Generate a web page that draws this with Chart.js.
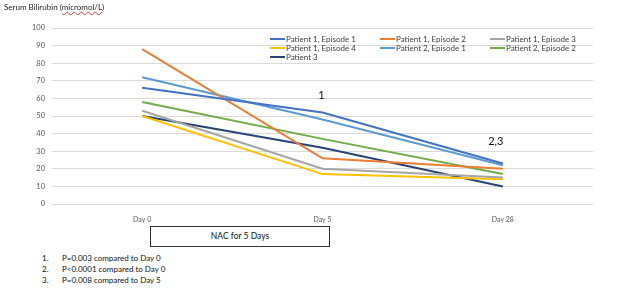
<!DOCTYPE html>
<html>
<head>
<meta charset="utf-8">
<script src="https://cdn.jsdelivr.net/npm/chart.js@4"></script>
<style>
  body { margin: 0; background: #fff; font-family: Lato, "Open Sans", sans-serif; }
  #wrap { position: relative; width: 624px; height: 290px; }
  #chart { position: absolute; left: 0; top: 0; }
  #title { position: absolute; left: 4px; top: 2px; font-size: 8px; color: #222; }
  #title u { text-decoration: underline wavy #e04040; text-underline-offset: 1px; }
  #legend { position: absolute; left: 270px; top: 34px; width: 340px; font-size: 8px; color: #404040; }
  .item { position: absolute; display: flex; align-items: center; white-space: nowrap; }
  .item span.sw { display: inline-block; width: 15px; height: 2px; margin-right: 1px; }
  #nac { position: absolute; left: 150px; top: 226px; width: 178px; height: 19px; border: 1px solid #333;
         font-size: 8.5px; text-align: center; line-height: 19px; color: #111; }
  #notes { position: absolute; left: 42px; top: 253px; font-size: 8px; color: #111; line-height: 11px; }
  #notes div span { display: inline-block; width: 20px; }
</style>
</head>
<body>
<div id="wrap">
  <canvas id="chart" width="624" height="225"></canvas>
  <div id="title">Serum Bilirubin (<u>micromol/L</u>)</div>
  <div id="legend"></div>
  <div id="nac">NAC for 5 Days</div>
  <div id="notes"></div>
</div>
<script>
const days = ["Day 0", "Day 5", "Day 28"];

const p1e1 = [66, 52, 23];
const p1e2 = [88, 26, 20];
const p1e3 = [53, 20, 15];
const p1e4 = [50, 17, 14];
const p2e1 = [72, 48, 22];
const p2e2 = [58, 37, 17];
const p3 = [50, 32, 10];

const seriesNames = [
  "Patient 1, Episode 1", "Patient 1, Episode 2", "Patient 1, Episode 3",
  "Patient 1, Episode 4", "Patient 2, Episode 1", "Patient 2, Episode 2",
  "Patient 3"
];
const seriesColors = ["#4472C4", "#ED7D31", "#A5A5A5", "#FFC000", "#5B9BD5", "#70AD47", "#264478"];

// significance marks: text, category, y value where it sits
const marks = [
  { text: "1", day: "Day 5", y: 61.5 },
  { text: "2,3", day: "Day 28", y: 35.5 }
];

const footnotes = [
  "P=0.003 compared to Day 0",
  "P<0.0001 compared to Day 0",
  "P=0.008 compared to Day 5"
];

const allSeries = [p1e1, p1e2, p1e3, p1e4, p2e1, p2e2, p3];

const marksPlugin = {
  id: "marks",
  afterDatasetsDraw(chart) {
    const ctx = chart.ctx;
    const xs = chart.scales.x, ys = chart.scales.y;
    ctx.save();
    ctx.font = "11px Lato, 'Open Sans', sans-serif";
    ctx.fillStyle = "#111";
    ctx.textAlign = "center";
    ctx.textBaseline = "middle";
    marks.forEach((m, i) => {
      const idx = days.indexOf(m.day);
      const nudge = i === 0 ? -1 : -7;
      ctx.fillText(m.text, xs.getPixelForValue(idx) + nudge, ys.getPixelForValue(m.y));
    });
    ctx.restore();
  }
};

const chart = new Chart(document.getElementById("chart"), {
  type: "line",
  data: {
    labels: days,
    datasets: allSeries.map((vals, i) => ({
      label: seriesNames[i],
      data: vals,
      borderColor: seriesColors[i],
      backgroundColor: seriesColors[i],
      borderWidth: 2,
      pointRadius: 0,
      tension: 0,
      fill: false
    }))
  },
  options: {
    responsive: false,
    animation: false,
    layout: { padding: { top: 28, right: 31, left: 0, bottom: 0 } },
    plugins: {
      legend: { display: false },
      tooltip: { enabled: false }
    },
    scales: {
      x: {
        offset: true,
        grid: { display: false },
        border: { display: false },
        ticks: { color: "#595959", font: { size: 7, family: "Lato" }, padding: 4 },
        afterFit(scale) { scale.height = 21; }
      },
      y: {
        min: 0,
        max: 100,
        ticks: { stepSize: 10, color: "#595959", font: { size: 7.5, family: "Lato" }, padding: 7 },
        grid: { color: "#d9d9d9", drawTicks: false, lineWidth: 1 },
        border: { display: false },
        afterFit(scale) { scale.width = 52; }
      }
    }
  },
  plugins: [marksPlugin]
});

// legend, three columns, built from the datasets
const legend = document.getElementById("legend");
chart.data.datasets.forEach((ds, i) => {
  const item = document.createElement("div");
  item.className = "item";
  item.style.left = (i % 3) * 110 + "px";
  item.style.top = Math.floor(i / 3) * 9 + "px";
  item.innerHTML = '<span class="sw" style="background:' + ds.borderColor + '"></span>' + ds.label;
  legend.appendChild(item);
});

const notes = document.getElementById("notes");
footnotes.forEach((t, i) => {
  const d = document.createElement("div");
  d.innerHTML = "<span>" + (i + 1) + ".</span>" + t.replace("<", "&lt;");
  notes.appendChild(d);
});
</script>
</body>
</html>
